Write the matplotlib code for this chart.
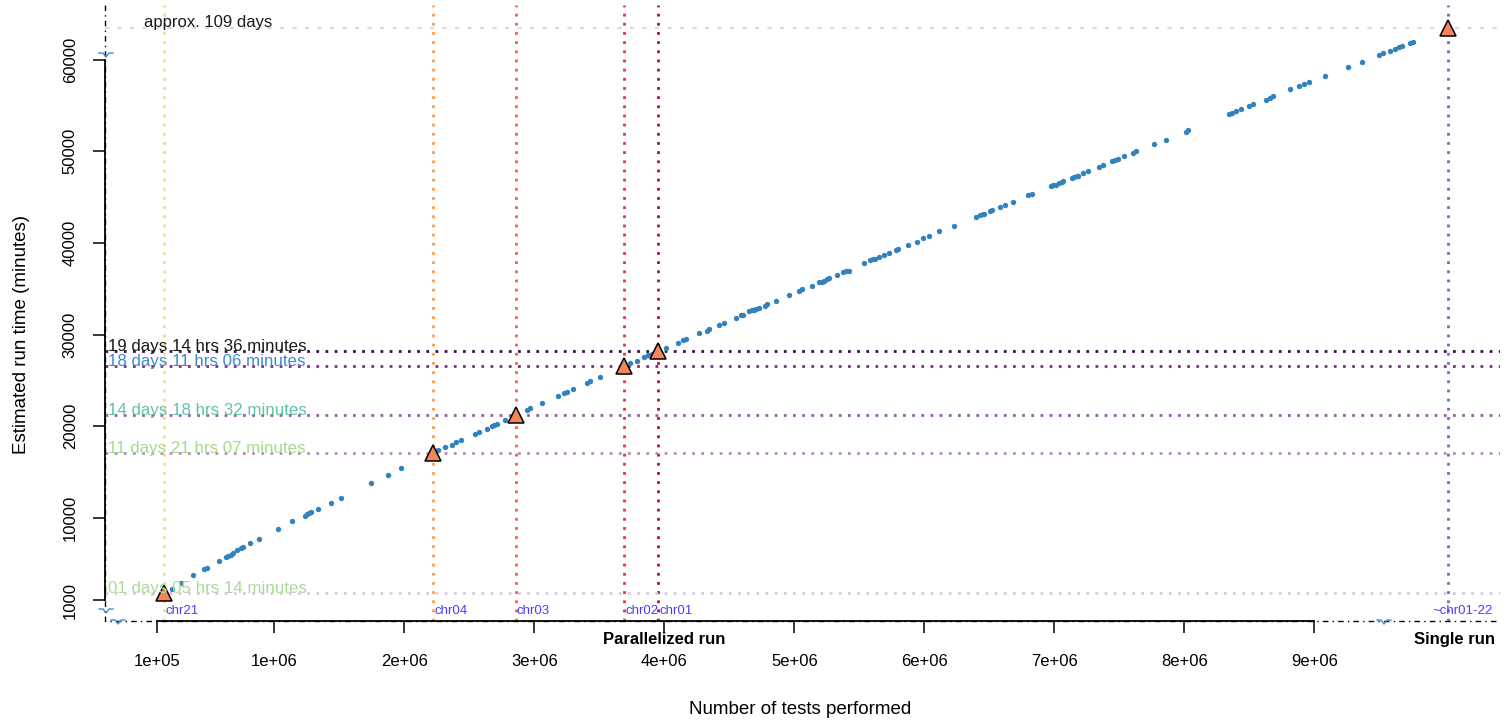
import matplotlib
matplotlib.use("Agg")
import matplotlib.pyplot as plt

plt.rcParams['font.family'] = ['Liberation Sans', 'DejaVu Sans']

# ---- data (tests in millions, run time in minutes) ----
tests_m = [0.211, 0.280, 0.377, 0.462, 0.480, 0.577, 0.628, 0.646, 0.665, 0.680,
           0.711, 0.744, 0.762, 0.815, 0.880, 1.028, 1.138, 1.236, 1.252, 1.267,
           1.285, 1.336, 1.434, 1.513, 1.744, 1.872, 1.977,
           2.262, 2.313, 2.365, 2.398, 2.434, 2.544, 2.577, 2.634, 2.672, 2.690,
           2.711, 2.777, 2.942, 2.967, 3.062, 3.185, 3.228, 3.249, 3.300, 3.408,
           3.428, 3.505, 3.736, 3.792, 3.844, 3.877, 3.903, 4.011, 4.103,
           4.142, 4.165, 4.267, 4.326, 4.346, 4.423, 4.459, 4.549, 4.590, 4.603,
           4.654, 4.672, 4.690, 4.705, 4.726, 4.775, 4.792, 4.862, 4.957, 5.036,
           5.057, 5.138, 5.192, 5.211, 5.228, 5.249, 5.267, 5.326, 5.377, 5.395,
           5.418, 5.538, 5.582, 5.603, 5.621, 5.654, 5.690, 5.728, 5.782, 5.800,
           5.872, 5.942, 5.992, 6.038, 6.115,
           6.228, 6.398, 6.428, 6.449, 6.462, 6.505, 6.518, 6.582, 6.621, 6.685,
           6.800, 6.826, 6.975, 6.992, 7.011, 7.036, 7.057, 7.069, 7.134, 7.154,
           7.172, 7.185, 7.218, 7.262, 7.346, 7.377, 7.446, 7.467, 7.488, 7.538,
           7.603, 7.628, 7.769, 7.859, 8.011, 8.031,
           8.344, 8.369, 8.395, 8.434, 8.500, 8.531, 8.628, 8.659, 8.680, 8.813,
           8.885, 8.923, 8.959, 9.082, 9.262, 9.369, 9.500, 9.531, 9.582, 9.621,
           9.654, 9.677, 9.736, 9.762]
runtime_min = [2190, 2850, 3790, 4410, 4550, 5320, 5690, 5830, 5970, 6120,
               6450, 6670, 6780, 7220, 7720, 8740, 9620, 10230, 10380, 10520,
               10670, 10990, 11650, 12130, 13770, 14700, 15440,
               17400, 17700, 17980, 18240, 18490, 19110, 19370, 19730, 19990, 20100,
               20240, 20680, 21730, 21950, 22530, 23260, 23590, 23700, 24060, 24680,
               24900, 25340, 26860, 27150, 27580, 27740, 27850, 28500, 29110,
               29410, 29550, 30140, 30420, 30640, 31010, 31300, 31780, 32100, 32170,
               32540, 32650, 32680, 32760, 32900, 33150, 33300, 33700, 34320, 34790,
               34940, 35340, 35710, 35770, 35880, 36030, 36180, 36470, 36830, 36910,
               36970, 37780, 38110, 38220, 38280, 38500, 38720, 38870, 39230, 39370,
               39780, 40110, 40510, 40760, 41270,
               41820, 42800, 43020, 43160, 43200, 43490, 43600, 43930, 44180, 44440,
               45200, 45350, 46190, 46300, 46330, 46550, 46660, 46730, 47060, 47170,
               47280, 47340, 47610, 47860, 48330, 48480, 48980, 49090, 49130, 49490,
               49850, 50010, 50770, 51270, 52150, 52330,
               54080, 54220, 54370, 54590, 54950, 55140, 55610, 55860, 56010, 56770,
               57130, 57390, 57540, 58260, 59180, 59790, 60550, 60700, 60920, 61170,
               61420, 61530, 61800, 61940]

chrom_names = ["chr21", "chr04", "chr03", "chr02", "chr01"]
chrom_tests_m = [0.152, 2.220, 2.856, 3.690, 3.955]
chrom_minutes = [1754, 17107, 21272, 26586, 28236]
chrom_time_labels = ["01 days 05 hrs 14 minutes", "11 days 21 hrs 07 minutes",
                     "14 days 18 hrs 32 minutes", "18 days 11 hrs 06 minutes",
                     "19 days 14 hrs 36 minutes"]

single_name = "~chr01-22"
single_tests_m = 10.03          # drawn position, beyond the x-axis break
single_minutes = 156960         # approx. 109 days
single_label = "approx. 109 days"

# y axis break: values above Y_GAP_HI are drawn shifted down to just above Y_GAP_LO
Y_GAP_LO, Y_GAP_HI = 62500, 156030

def ygap(v):
    return v - (Y_GAP_HI - Y_GAP_LO) if v > Y_GAP_HI else v

x_ticks = [0.1, 1, 2, 3, 4, 5, 6, 7, 8, 9]
x_tick_labels = ["1e+05", "1e+06", "2e+06", "3e+06", "4e+06", "5e+06",
                 "6e+06", "7e+06", "8e+06", "9e+06"]
y_ticks = [1000, 10000, 20000, 30000, 40000, 50000, 60000]
y_tick_labels = ["1000", "10000", "20000", "30000", "40000", "50000", "60000"]

# ---- styles ----
vline_colors = ["#FED976", "#FD9B4A", "#F5603E", "#E5323F", "#B1103A"]
single_vcolor = "#7B68B6"
hline_colors = ["#DCC6E3", "#B48CC4", "#9B5BAA", "#842A8F", "#3F0A52"]
label_colors = ["#A9DB9B", "#A8D88E", "#62C2A6", "#3F8CCB", "#1A1A1A"]
dot_color = "#3182BD"
tri_color = "#F5865A"
chr_text_color = "#4B3BFF"
dotted = (0, (1, 2.3))

fig = plt.figure(figsize=(15.04, 7.22), dpi=100)
W, H = 1504, 722
ax = fig.add_axes([105 / W, 101 / H, 1395 / W, 616 / H])
xmin, xmax = -0.302, 10.428
ymin, ymax = -1266, 65976
ax.set_xlim(xmin, xmax)
ax.set_ylim(ymin, ymax)
for s in ax.spines.values():
    s.set_visible(False)

# reference lines
for x, c in zip(chrom_tests_m, vline_colors):
    ax.axvline(x, color=c, ls=dotted, lw=2.0, zorder=1)
ax.axvline(single_tests_m, color=single_vcolor, ls=dotted, lw=2.0, zorder=1)
for y, c in zip(chrom_minutes, hline_colors):
    ax.axhline(y, color=c, ls=dotted, lw=2.0, zorder=1)
ax.axhline(ygap(single_minutes), color="#DADADA", ls=(0, (2, 4)), lw=1.5, zorder=1)

# points
ax.scatter(tests_m, runtime_min, s=15, color=dot_color, linewidths=0, zorder=3)
ax.plot(chrom_tests_m, chrom_minutes, ls='none', marker='^', ms=12,
        mfc=tri_color, mec='black', mew=1.1, zorder=4)
ax.plot([single_tests_m], [ygap(single_minutes)], ls='none', marker='^', ms=12,
        mfc=tri_color, mec='black', mew=1.1, zorder=4)

# run-time labels on horizontal lines
for y, lab, c in zip(chrom_minutes, chrom_time_labels, label_colors):
    ax.text(0.002, y, lab, color=c, fontsize=12.2, ha='left', va='baseline',
            transform=ax.get_yaxis_transform(), zorder=5)
ax.text(0.0, ygap(single_minutes) + 150, single_label, color="#1A1A1A", fontsize=12,
        ha='left', va='baseline', zorder=5)

# chromosome labels near the x axis
bt = ax.get_xaxis_transform()
for x, n in zip(chrom_tests_m, chrom_names):
    ax.annotate(n, xy=(x, 0.0167), xycoords=bt, xytext=(1, 0), textcoords='offset points',
                color=chr_text_color, fontsize=9.5, ha='left', va='center', zorder=5)
ax.annotate(single_name, xy=(single_tests_m, 0.0167), xycoords=bt, xytext=(-11.5, 0),
            textcoords='offset points', color=chr_text_color, fontsize=9.5,
            ha='left', va='center', zorder=5)

# axes: dash-dot L frame + solid axis between extreme ticks
ax.plot([0, 0, 1], [1, 0, 0], transform=ax.transAxes, color='black', lw=1.0,
        ls=(0, (4, 3, 1, 3)), clip_on=False, zorder=2)
ax.plot([xmin, xmin], [y_ticks[0], y_ticks[-1]], color='black', lw=1.3,
        clip_on=False, zorder=2)
ax.plot([x_ticks[0], x_ticks[-1]], [ymin, ymin], color='black', lw=1.3,
        clip_on=False, zorder=2)

ax.set_xticks(x_ticks)
ax.set_xticklabels(x_tick_labels)
ax.set_yticks(y_ticks)
ax.set_yticklabels(y_tick_labels, rotation=90, va='center')
ax.tick_params(axis='x', length=8.6, width=1.1, pad=15, labelsize=12, colors='black')
ax.tick_params(axis='y', length=8.6, width=1.1, pad=11, labelsize=12, colors='black')

# group labels under the axis
ax.text(4.0, -0.03, "Parallelized run", transform=bt, fontsize=12, fontweight='bold',
        ha='center', va='center')
ax.text(10.08, -0.03, "Single run", transform=bt, fontsize=12, fontweight='bold',
        ha='center', va='center')

# axis titles
fig.text(800 / W, 1 - 709 / H, "Number of tests performed", fontsize=13.5,
         ha='center', va='center')
fig.text(22 / W, 1 - 335 / H, "Estimated run time (minutes)", fontsize=13.5,
         rotation=90, ha='center', va='center')

# axis-break zigzags (drawn in pixel space)
zz = "#3C8DD0"
def zig(px, py):
    xs = [px - 7, px - 3, px, px + 3, px + 7]
    ys = [py - 1, py - 1, py + 3, py - 1, py - 1]
    fig.add_artist(plt.Line2D([x / W for x in xs], [1 - y / H for y in ys],
                              transform=fig.transFigure, color=zz, lw=1.0))

zig(106, 54)
zig(106, 610)
zig(118, 621)
zig(1384, 621)

fig.savefig("out.png", dpi=100, facecolor='white')
